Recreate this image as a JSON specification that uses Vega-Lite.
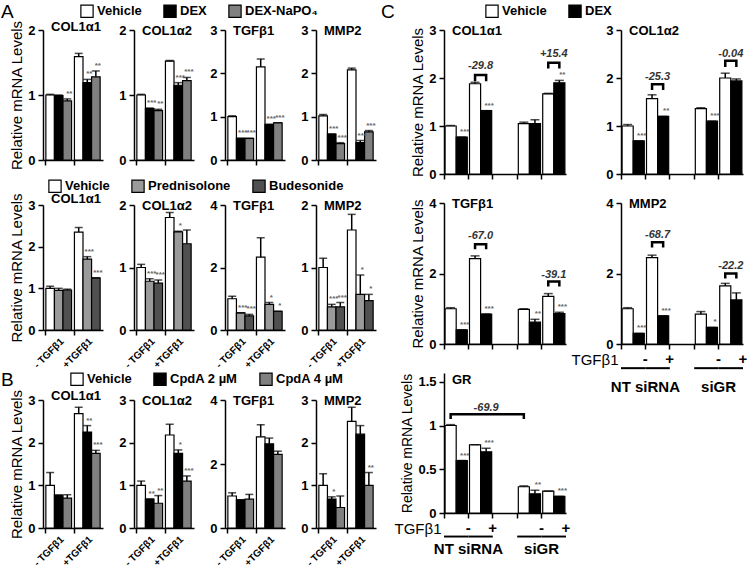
{
"$schema": "https://vega.github.io/schema/vega-lite/v6.json",
"padding": {"left": 1, "top": 4, "right": 0, "bottom": 0},
"config": {
  "font": "Liberation Sans",
  "view": {"stroke": null},
  "axis": {"domainColor": "black", "domainWidth": 1.5, "tickColor": "black", "tickWidth": 1.5, "tickSize": 5, "labelColor": "black", "labelFontSize": 13, "labelFontWeight": "bold", "labelFont": "Liberation Sans", "titleFont": "Liberation Sans", "titleFontSize": 15, "titleFontWeight": "normal", "titleColor": "black", "grid": false, "labelPadding": 3},
  "axisX": {"labels": false, "bandPosition": 0},
  "axisY": {"titlePadding": 3},
  "title": {"anchor": "start", "frame": "group", "fontSize": 13, "fontWeight": "bold", "font": "Liberation Sans", "color": "black", "offset": -14, "dx": 8},
  "legend": {"orient": "none", "direction": "horizontal", "symbolType": "square", "symbolSize": 150, "symbolStrokeColor": "black", "symbolStrokeWidth": 1.5, "labelFontSize": 13, "labelFontWeight": "bold", "labelFont": "Liberation Sans", "labelColor": "black", "titleFont": "Liberation Sans", "titleFontSize": 19, "titleFontWeight": "normal", "titleColor": "black", "titleOrient": "left", "columnPadding": 19, "labelOffset": 3},
  "bar": {"stroke": "black", "strokeWidth": 1.2}
},
"datasets": {
  "A1": [
    {"gene":"COL1α1","tgf":"- TGFβ1","trt":"Vehicle","val":1.0,"hi":1.01,"sig":""},
    {"gene":"COL1α1","tgf":"- TGFβ1","trt":"DEX","val":0.99,"hi":1.0,"sig":""},
    {"gene":"COL1α1","tgf":"- TGFβ1","trt":"DEX-NaPO₄","val":0.91,"hi":0.94,"sig":"**"},
    {"gene":"COL1α1","tgf":"+TGFβ1","trt":"Vehicle","val":1.59,"hi":1.64,"sig":""},
    {"gene":"COL1α1","tgf":"+TGFβ1","trt":"DEX","val":1.19,"hi":1.24,"sig":"**"},
    {"gene":"COL1α1","tgf":"+TGFβ1","trt":"DEX-NaPO₄","val":1.28,"hi":1.37,"sig":"**"},
    {"gene":"COL1α2","tgf":"- TGFβ1","trt":"Vehicle","val":1.0,"hi":1.01,"sig":""},
    {"gene":"COL1α2","tgf":"- TGFβ1","trt":"DEX","val":0.79,"hi":0.8,"sig":"***"},
    {"gene":"COL1α2","tgf":"- TGFβ1","trt":"DEX-NaPO₄","val":0.76,"hi":0.78,"sig":"**"},
    {"gene":"COL1α2","tgf":"+TGFβ1","trt":"Vehicle","val":1.52,"hi":1.53,"sig":""},
    {"gene":"COL1α2","tgf":"+TGFβ1","trt":"DEX","val":1.15,"hi":1.19,"sig":"***"},
    {"gene":"COL1α2","tgf":"+TGFβ1","trt":"DEX-NaPO₄","val":1.22,"hi":1.27,"sig":"***"},
    {"gene":"TGFβ1","tgf":"- TGFβ1","trt":"Vehicle","val":1.0,"hi":1.02,"sig":""},
    {"gene":"TGFβ1","tgf":"- TGFβ1","trt":"DEX","val":0.5,"hi":0.5,"sig":"***"},
    {"gene":"TGFβ1","tgf":"- TGFβ1","trt":"DEX-NaPO₄","val":0.5,"hi":0.5,"sig":"***"},
    {"gene":"TGFβ1","tgf":"+TGFβ1","trt":"Vehicle","val":2.15,"hi":2.33,"sig":""},
    {"gene":"TGFβ1","tgf":"+TGFβ1","trt":"DEX","val":0.82,"hi":0.82,"sig":"***"},
    {"gene":"TGFβ1","tgf":"+TGFβ1","trt":"DEX-NaPO₄","val":0.86,"hi":0.86,"sig":"***"},
    {"gene":"MMP2","tgf":"- TGFβ1","trt":"Vehicle","val":1.02,"hi":1.05,"sig":""},
    {"gene":"MMP2","tgf":"- TGFβ1","trt":"DEX","val":0.6,"hi":0.6,"sig":"***"},
    {"gene":"MMP2","tgf":"- TGFβ1","trt":"DEX-NaPO₄","val":0.38,"hi":0.4,"sig":"***"},
    {"gene":"MMP2","tgf":"+TGFβ1","trt":"Vehicle","val":2.08,"hi":2.12,"sig":""},
    {"gene":"MMP2","tgf":"+TGFβ1","trt":"DEX","val":0.4,"hi":0.45,"sig":"***"},
    {"gene":"MMP2","tgf":"+TGFβ1","trt":"DEX-NaPO₄","val":0.65,"hi":0.68,"sig":"***"}
  ],
  "A2": [
    {"gene":"COL1α1","tgf":"- TGFβ1","trt":"Vehicle","val":1.0,"hi":1.05,"sig":""},
    {"gene":"COL1α1","tgf":"- TGFβ1","trt":"Prednisolone","val":0.95,"hi":1.0,"sig":""},
    {"gene":"COL1α1","tgf":"- TGFβ1","trt":"Budesonide","val":0.96,"hi":0.98,"sig":""},
    {"gene":"COL1α1","tgf":"+TGFβ1","trt":"Vehicle","val":2.35,"hi":2.46,"sig":""},
    {"gene":"COL1α1","tgf":"+TGFβ1","trt":"Prednisolone","val":1.7,"hi":1.76,"sig":"***"},
    {"gene":"COL1α1","tgf":"+TGFβ1","trt":"Budesonide","val":1.25,"hi":1.25,"sig":"***"},
    {"gene":"COL1α2","tgf":"- TGFβ1","trt":"Vehicle","val":1.0,"hi":1.05,"sig":""},
    {"gene":"COL1α2","tgf":"- TGFβ1","trt":"Prednisolone","val":0.78,"hi":0.82,"sig":"***"},
    {"gene":"COL1α2","tgf":"- TGFβ1","trt":"Budesonide","val":0.75,"hi":0.8,"sig":"***"},
    {"gene":"COL1α2","tgf":"+TGFβ1","trt":"Vehicle","val":1.8,"hi":1.88,"sig":""},
    {"gene":"COL1α2","tgf":"+TGFβ1","trt":"Prednisolone","val":1.57,"hi":1.58,"sig":"*"},
    {"gene":"COL1α2","tgf":"+TGFβ1","trt":"Budesonide","val":1.38,"hi":1.6,"sig":""},
    {"gene":"TGFβ1","tgf":"- TGFβ1","trt":"Vehicle","val":1.0,"hi":1.08,"sig":""},
    {"gene":"TGFβ1","tgf":"- TGFβ1","trt":"Prednisolone","val":0.55,"hi":0.55,"sig":"***"},
    {"gene":"TGFβ1","tgf":"- TGFβ1","trt":"Budesonide","val":0.45,"hi":0.5,"sig":"***"},
    {"gene":"TGFβ1","tgf":"+TGFβ1","trt":"Vehicle","val":2.33,"hi":2.95,"sig":""},
    {"gene":"TGFβ1","tgf":"+TGFβ1","trt":"Prednisolone","val":0.82,"hi":0.88,"sig":"*"},
    {"gene":"TGFβ1","tgf":"+TGFβ1","trt":"Budesonide","val":0.6,"hi":0.6,"sig":"*"},
    {"gene":"MMP2","tgf":"- TGFβ1","trt":"Vehicle","val":1.0,"hi":1.15,"sig":""},
    {"gene":"MMP2","tgf":"- TGFβ1","trt":"Prednisolone","val":0.37,"hi":0.41,"sig":"***"},
    {"gene":"MMP2","tgf":"- TGFβ1","trt":"Budesonide","val":0.37,"hi":0.44,"sig":"***"},
    {"gene":"MMP2","tgf":"+TGFβ1","trt":"Vehicle","val":1.6,"hi":1.85,"sig":""},
    {"gene":"MMP2","tgf":"+TGFβ1","trt":"Prednisolone","val":0.57,"hi":0.88,"sig":"*"},
    {"gene":"MMP2","tgf":"+TGFβ1","trt":"Budesonide","val":0.47,"hi":0.57,"sig":"*"}
  ],
  "B": [
    {"gene":"COL1α1","tgf":"- TGFβ1","trt":"Vehicle","val":1.0,"hi":1.3,"sig":""},
    {"gene":"COL1α1","tgf":"- TGFβ1","trt":"CpdA 2 µM","val":0.77,"hi":0.77,"sig":""},
    {"gene":"COL1α1","tgf":"- TGFβ1","trt":"CpdA 4 µM","val":0.7,"hi":0.78,"sig":""},
    {"gene":"COL1α1","tgf":"+TGFβ1","trt":"Vehicle","val":2.68,"hi":2.83,"sig":""},
    {"gene":"COL1α1","tgf":"+TGFβ1","trt":"CpdA 2 µM","val":2.25,"hi":2.4,"sig":"**"},
    {"gene":"COL1α1","tgf":"+TGFβ1","trt":"CpdA 4 µM","val":1.75,"hi":1.82,"sig":"***"},
    {"gene":"COL1α2","tgf":"- TGFβ1","trt":"Vehicle","val":1.0,"hi":1.1,"sig":""},
    {"gene":"COL1α2","tgf":"- TGFβ1","trt":"CpdA 2 µM","val":0.68,"hi":0.68,"sig":"**"},
    {"gene":"COL1α2","tgf":"- TGFβ1","trt":"CpdA 4 µM","val":0.58,"hi":0.76,"sig":"**"},
    {"gene":"COL1α2","tgf":"+TGFβ1","trt":"Vehicle","val":2.18,"hi":2.43,"sig":""},
    {"gene":"COL1α2","tgf":"+TGFβ1","trt":"CpdA 2 µM","val":1.75,"hi":1.83,"sig":"*"},
    {"gene":"COL1α2","tgf":"+TGFβ1","trt":"CpdA 4 µM","val":1.1,"hi":1.22,"sig":"***"},
    {"gene":"TGFβ1","tgf":"- TGFβ1","trt":"Vehicle","val":1.0,"hi":1.1,"sig":""},
    {"gene":"TGFβ1","tgf":"- TGFβ1","trt":"CpdA 2 µM","val":0.88,"hi":0.88,"sig":""},
    {"gene":"TGFβ1","tgf":"- TGFβ1","trt":"CpdA 4 µM","val":0.9,"hi":1.05,"sig":""},
    {"gene":"TGFβ1","tgf":"+TGFβ1","trt":"Vehicle","val":2.85,"hi":3.23,"sig":""},
    {"gene":"TGFβ1","tgf":"+TGFβ1","trt":"CpdA 2 µM","val":2.63,"hi":2.81,"sig":""},
    {"gene":"TGFβ1","tgf":"+TGFβ1","trt":"CpdA 4 µM","val":2.3,"hi":2.4,"sig":""},
    {"gene":"MMP2","tgf":"- TGFβ1","trt":"Vehicle","val":1.0,"hi":1.27,"sig":""},
    {"gene":"MMP2","tgf":"- TGFβ1","trt":"CpdA 2 µM","val":0.68,"hi":0.73,"sig":"*"},
    {"gene":"MMP2","tgf":"- TGFβ1","trt":"CpdA 4 µM","val":0.48,"hi":0.75,"sig":""},
    {"gene":"MMP2","tgf":"+TGFβ1","trt":"Vehicle","val":2.5,"hi":2.83,"sig":""},
    {"gene":"MMP2","tgf":"+TGFβ1","trt":"CpdA 2 µM","val":2.2,"hi":2.4,"sig":""},
    {"gene":"MMP2","tgf":"+TGFβ1","trt":"CpdA 4 µM","val":1.0,"hi":1.3,"sig":"**"}
  ],
  "C": [
    {"gene":"COL1α1","grp":"NT-","trt":"Vehicle","val":1.0,"hi":1.01,"sig":""},
    {"gene":"COL1α1","grp":"NT-","trt":"DEX","val":0.77,"hi":0.77,"sig":"***"},
    {"gene":"COL1α1","grp":"NT+","trt":"Vehicle","val":1.88,"hi":1.91,"sig":""},
    {"gene":"COL1α1","grp":"NT+","trt":"DEX","val":1.32,"hi":1.32,"sig":"***"},
    {"gene":"COL1α1","grp":"siGR-","trt":"Vehicle","val":1.05,"hi":1.08,"sig":""},
    {"gene":"COL1α1","grp":"siGR-","trt":"DEX","val":1.05,"hi":1.13,"sig":""},
    {"gene":"COL1α1","grp":"siGR+","trt":"Vehicle","val":1.67,"hi":1.68,"sig":""},
    {"gene":"COL1α1","grp":"siGR+","trt":"DEX","val":1.9,"hi":1.95,"sig":"**"},
    {"gene":"COL1α2","grp":"NT-","trt":"Vehicle","val":1.0,"hi":1.03,"sig":""},
    {"gene":"COL1α2","grp":"NT-","trt":"DEX","val":0.69,"hi":0.69,"sig":"***"},
    {"gene":"COL1α2","grp":"NT+","trt":"Vehicle","val":1.57,"hi":1.65,"sig":""},
    {"gene":"COL1α2","grp":"NT+","trt":"DEX","val":1.2,"hi":1.2,"sig":"**"},
    {"gene":"COL1α2","grp":"siGR-","trt":"Vehicle","val":1.36,"hi":1.38,"sig":""},
    {"gene":"COL1α2","grp":"siGR-","trt":"DEX","val":1.1,"hi":1.1,"sig":"***"},
    {"gene":"COL1α2","grp":"siGR+","trt":"Vehicle","val":2.0,"hi":2.1,"sig":""},
    {"gene":"COL1α2","grp":"siGR+","trt":"DEX","val":1.94,"hi":1.98,"sig":""},
    {"gene":"TGFβ1","grp":"NT-","trt":"Vehicle","val":1.0,"hi":1.03,"sig":""},
    {"gene":"TGFβ1","grp":"NT-","trt":"DEX","val":0.4,"hi":0.4,"sig":"***"},
    {"gene":"TGFβ1","grp":"NT+","trt":"Vehicle","val":2.42,"hi":2.5,"sig":""},
    {"gene":"TGFβ1","grp":"NT+","trt":"DEX","val":0.85,"hi":0.85,"sig":"***"},
    {"gene":"TGFβ1","grp":"siGR-","trt":"Vehicle","val":0.98,"hi":1.0,"sig":""},
    {"gene":"TGFβ1","grp":"siGR-","trt":"DEX","val":0.62,"hi":0.7,"sig":"**"},
    {"gene":"TGFβ1","grp":"siGR+","trt":"Vehicle","val":1.35,"hi":1.43,"sig":""},
    {"gene":"TGFβ1","grp":"siGR+","trt":"DEX","val":0.86,"hi":0.9,"sig":"***"},
    {"gene":"MMP2","grp":"NT-","trt":"Vehicle","val":1.0,"hi":1.03,"sig":""},
    {"gene":"MMP2","grp":"NT-","trt":"DEX","val":0.3,"hi":0.3,"sig":"***"},
    {"gene":"MMP2","grp":"NT+","trt":"Vehicle","val":2.45,"hi":2.52,"sig":""},
    {"gene":"MMP2","grp":"NT+","trt":"DEX","val":0.8,"hi":0.8,"sig":"***"},
    {"gene":"MMP2","grp":"siGR-","trt":"Vehicle","val":0.85,"hi":0.92,"sig":""},
    {"gene":"MMP2","grp":"siGR-","trt":"DEX","val":0.47,"hi":0.47,"sig":"*"},
    {"gene":"MMP2","grp":"siGR+","trt":"Vehicle","val":1.65,"hi":1.72,"sig":""},
    {"gene":"MMP2","grp":"siGR+","trt":"DEX","val":1.25,"hi":1.45,"sig":""},
    {"gene":"GR","grp":"NT-","trt":"Vehicle","val":1.0,"hi":1.01,"sig":""},
    {"gene":"GR","grp":"NT-","trt":"DEX","val":0.6,"hi":0.6,"sig":"***"},
    {"gene":"GR","grp":"NT+","trt":"Vehicle","val":0.78,"hi":0.78,"sig":""},
    {"gene":"GR","grp":"NT+","trt":"DEX","val":0.7,"hi":0.74,"sig":"***"},
    {"gene":"GR","grp":"siGR-","trt":"Vehicle","val":0.3,"hi":0.31,"sig":""},
    {"gene":"GR","grp":"siGR-","trt":"DEX","val":0.22,"hi":0.26,"sig":"**"},
    {"gene":"GR","grp":"siGR+","trt":"Vehicle","val":0.25,"hi":0.25,"sig":""},
    {"gene":"GR","grp":"siGR+","trt":"DEX","val":0.19,"hi":0.19,"sig":"***"}
  ],
  "Cbr": [
    {"id":"b1","gene":"COL1α1","grp":"NT+","trt":"Vehicle","y":1.93,"ord":1},
    {"id":"b1","gene":"COL1α1","grp":"NT+","trt":"Vehicle","y":2.06,"ord":2},
    {"id":"b1","gene":"COL1α1","grp":"NT+","trt":"DEX","y":2.06,"ord":3},
    {"id":"b1","gene":"COL1α1","grp":"NT+","trt":"DEX","y":1.93,"ord":4},
    {"id":"b2","gene":"COL1α1","grp":"siGR+","trt":"Vehicle","y":2.2,"ord":1},
    {"id":"b2","gene":"COL1α1","grp":"siGR+","trt":"Vehicle","y":2.32,"ord":2},
    {"id":"b2","gene":"COL1α1","grp":"siGR+","trt":"DEX","y":2.32,"ord":3},
    {"id":"b2","gene":"COL1α1","grp":"siGR+","trt":"DEX","y":2.2,"ord":4},
    {"id":"b3","gene":"COL1α2","grp":"NT+","trt":"Vehicle","y":1.75,"ord":1},
    {"id":"b3","gene":"COL1α2","grp":"NT+","trt":"Vehicle","y":1.87,"ord":2},
    {"id":"b3","gene":"COL1α2","grp":"NT+","trt":"DEX","y":1.87,"ord":3},
    {"id":"b3","gene":"COL1α2","grp":"NT+","trt":"DEX","y":1.75,"ord":4},
    {"id":"b4","gene":"COL1α2","grp":"siGR+","trt":"Vehicle","y":2.23,"ord":1},
    {"id":"b4","gene":"COL1α2","grp":"siGR+","trt":"Vehicle","y":2.36,"ord":2},
    {"id":"b4","gene":"COL1α2","grp":"siGR+","trt":"DEX","y":2.36,"ord":3},
    {"id":"b4","gene":"COL1α2","grp":"siGR+","trt":"DEX","y":2.23,"ord":4},
    {"id":"b5","gene":"TGFβ1","grp":"NT+","trt":"Vehicle","y":2.69,"ord":1},
    {"id":"b5","gene":"TGFβ1","grp":"NT+","trt":"Vehicle","y":2.83,"ord":2},
    {"id":"b5","gene":"TGFβ1","grp":"NT+","trt":"DEX","y":2.83,"ord":3},
    {"id":"b5","gene":"TGFβ1","grp":"NT+","trt":"DEX","y":2.69,"ord":4},
    {"id":"b6","gene":"TGFβ1","grp":"siGR+","trt":"Vehicle","y":1.63,"ord":1},
    {"id":"b6","gene":"TGFβ1","grp":"siGR+","trt":"Vehicle","y":1.77,"ord":2},
    {"id":"b6","gene":"TGFβ1","grp":"siGR+","trt":"DEX","y":1.77,"ord":3},
    {"id":"b6","gene":"TGFβ1","grp":"siGR+","trt":"DEX","y":1.63,"ord":4},
    {"id":"b7","gene":"MMP2","grp":"NT+","trt":"Vehicle","y":2.74,"ord":1},
    {"id":"b7","gene":"MMP2","grp":"NT+","trt":"Vehicle","y":2.89,"ord":2},
    {"id":"b7","gene":"MMP2","grp":"NT+","trt":"DEX","y":2.89,"ord":3},
    {"id":"b7","gene":"MMP2","grp":"NT+","trt":"DEX","y":2.74,"ord":4},
    {"id":"b8","gene":"MMP2","grp":"siGR+","trt":"Vehicle","y":1.86,"ord":1},
    {"id":"b8","gene":"MMP2","grp":"siGR+","trt":"Vehicle","y":2.0,"ord":2},
    {"id":"b8","gene":"MMP2","grp":"siGR+","trt":"DEX","y":2.0,"ord":3},
    {"id":"b8","gene":"MMP2","grp":"siGR+","trt":"DEX","y":1.86,"ord":4},
    {"id":"b9","gene":"GR","grp":"NT-","trt":"Vehicle","y":1.075,"ord":1},
    {"id":"b9","gene":"GR","grp":"NT-","trt":"Vehicle","y":1.13,"ord":2},
    {"id":"b9","gene":"GR","grp":"siGR-","trt":"Vehicle","y":1.13,"ord":3},
    {"id":"b9","gene":"GR","grp":"siGR-","trt":"Vehicle","y":1.075,"ord":4}
  ],
  "Clab": [
    {"gene":"COL1α1","grp":"NT+","y":2.25,"label":"-29.8"},
    {"gene":"COL1α1","grp":"siGR+","y":2.5,"label":"+15.4"},
    {"gene":"COL1α2","grp":"NT+","y":2.02,"label":"-25.3"},
    {"gene":"COL1α2","grp":"siGR+","y":2.51,"label":"-0.04"},
    {"gene":"TGFβ1","grp":"NT+","y":3.05,"label":"-67.0"},
    {"gene":"TGFβ1","grp":"siGR+","y":1.97,"label":"-39.1"},
    {"gene":"MMP2","grp":"NT+","y":3.09,"label":"-68.7"},
    {"gene":"MMP2","grp":"siGR+","y":2.2,"label":"-22.2"},
    {"gene":"GR","grp":"NT+","trt":"DEX","y":1.2,"label":"-69.9"}
  ],
  "Csi": [
    {"gene":"MMP2","grp":"NT-"},{"gene":"MMP2","grp":"NT+"},{"gene":"MMP2","grp":"siGR-"},{"gene":"MMP2","grp":"siGR+"},
    {"gene":"GR","grp":"NT-"},{"gene":"GR","grp":"NT+"},{"gene":"GR","grp":"siGR-"},{"gene":"GR","grp":"siGR+"}
  ],
  "Csilab": [
    {"gene":"MMP2","grp":"NT+","name":"NT siRNA"},{"gene":"MMP2","grp":"siGR+","name":"siGR"},
    {"gene":"GR","grp":"NT+","name":"NT siRNA"},{"gene":"GR","grp":"siGR+","name":"siGR"}
  ]
},
"hconcat": [
 {
  "vconcat": [
   {
    "vconcat": [
     {
      "data": {"name": "A1"},
      "hconcat": [
       {"width": 60, "height": 130, "title": "COL1α1",
        "transform": [{"filter": "datum.gene === 'COL1α1'"}],
        "encoding": {"x": {"field": "tgf", "type": "nominal", "title": null, "scale": {"domain": ["- TGFβ1","+TGFβ1"], "paddingInner": 0.1, "paddingOuter": 0.1}, "axis": {"labels": false}},
                     "xOffset": {"field": "trt", "type": "nominal", "scale": {"domain": ["Vehicle","DEX","DEX-NaPO₄"], "paddingInner": 0, "paddingOuter": 0}}},
        "layer": [
         {"mark": "bar", "encoding": {"y": {"field": "val", "type": "quantitative", "scale": {"domain": [0, 2]}, "axis": {"values": [0,0.5,1,1.5,2], "format": "~g", "title": "Relative mRNA Levels"}},
           "color": {"field": "trt", "type": "nominal", "scale": {"domain": ["Vehicle","DEX","DEX-NaPO₄"], "range": ["#ffffff","#000000","#808080"]}, "legend": {"title": "A", "legendX": -42, "legendY": -26, "titlePadding": 66}}}},
         {"mark": {"type": "rule", "color": "black", "strokeWidth": 1.5}, "encoding": {"y": {"field": "val", "type": "quantitative"}, "y2": {"field": "hi"}}},
         {"mark": {"type": "tick", "color": "black", "thickness": 1.5, "size": 8}, "encoding": {"y": {"field": "hi", "type": "quantitative"}}},
         {"mark": {"type": "text", "fontSize": 8, "fontWeight": "bold", "color": "#666666", "baseline": "bottom", "dx": 2, "dy": -1}, "encoding": {"y": {"field": "hi", "type": "quantitative"}, "text": {"field": "sig"}}}
        ]},
       {"width": 60, "height": 130, "title": "COL1α2",
        "transform": [{"filter": "datum.gene === 'COL1α2'"}],
        "encoding": {"x": {"field": "tgf", "type": "nominal", "title": null, "scale": {"domain": ["- TGFβ1","+TGFβ1"], "paddingInner": 0.1, "paddingOuter": 0.1}, "axis": {"labels": false}},
                     "xOffset": {"field": "trt", "type": "nominal", "scale": {"domain": ["Vehicle","DEX","DEX-NaPO₄"], "paddingInner": 0, "paddingOuter": 0}}},
        "layer": [
         {"mark": "bar", "encoding": {"y": {"field": "val", "type": "quantitative", "scale": {"domain": [0, 2]}, "axis": {"values": [0,0.5,1,1.5,2], "format": "~g", "title": null}},
           "color": {"field": "trt", "type": "nominal", "scale": {"domain": ["Vehicle","DEX","DEX-NaPO₄"], "range": ["#ffffff","#000000","#808080"]}, "legend": {"title": "A", "legendX": -42, "legendY": -26, "titlePadding": 66}}}},
         {"mark": {"type": "rule", "color": "black", "strokeWidth": 1.5}, "encoding": {"y": {"field": "val", "type": "quantitative"}, "y2": {"field": "hi"}}},
         {"mark": {"type": "tick", "color": "black", "thickness": 1.5, "size": 8}, "encoding": {"y": {"field": "hi", "type": "quantitative"}}},
         {"mark": {"type": "text", "fontSize": 8, "fontWeight": "bold", "color": "#666666", "baseline": "bottom", "dx": 2, "dy": -1}, "encoding": {"y": {"field": "hi", "type": "quantitative"}, "text": {"field": "sig"}}}
        ]},
       {"width": 60, "height": 130, "title": "TGFβ1",
        "transform": [{"filter": "datum.gene === 'TGFβ1'"}],
        "encoding": {"x": {"field": "tgf", "type": "nominal", "title": null, "scale": {"domain": ["- TGFβ1","+TGFβ1"], "paddingInner": 0.1, "paddingOuter": 0.1}, "axis": {"labels": false}},
                     "xOffset": {"field": "trt", "type": "nominal", "scale": {"domain": ["Vehicle","DEX","DEX-NaPO₄"], "paddingInner": 0, "paddingOuter": 0}}},
        "layer": [
         {"mark": "bar", "encoding": {"y": {"field": "val", "type": "quantitative", "scale": {"domain": [0, 3]}, "axis": {"values": [0,1,2,3], "format": "~g", "title": null}},
           "color": {"field": "trt", "type": "nominal", "scale": {"domain": ["Vehicle","DEX","DEX-NaPO₄"], "range": ["#ffffff","#000000","#808080"]}, "legend": {"title": "A", "legendX": -42, "legendY": -26, "titlePadding": 66}}}},
         {"mark": {"type": "rule", "color": "black", "strokeWidth": 1.5}, "encoding": {"y": {"field": "val", "type": "quantitative"}, "y2": {"field": "hi"}}},
         {"mark": {"type": "tick", "color": "black", "thickness": 1.5, "size": 8}, "encoding": {"y": {"field": "hi", "type": "quantitative"}}},
         {"mark": {"type": "text", "fontSize": 8, "fontWeight": "bold", "color": "#666666", "baseline": "bottom", "dx": 2, "dy": -1}, "encoding": {"y": {"field": "hi", "type": "quantitative"}, "text": {"field": "sig"}}}
        ]},
       {"width": 60, "height": 130, "title": "MMP2",
        "transform": [{"filter": "datum.gene === 'MMP2'"}],
        "encoding": {"x": {"field": "tgf", "type": "nominal", "title": null, "scale": {"domain": ["- TGFβ1","+TGFβ1"], "paddingInner": 0.1, "paddingOuter": 0.1}, "axis": {"labels": false}},
                     "xOffset": {"field": "trt", "type": "nominal", "scale": {"domain": ["Vehicle","DEX","DEX-NaPO₄"], "paddingInner": 0, "paddingOuter": 0}}},
        "layer": [
         {"mark": "bar", "encoding": {"y": {"field": "val", "type": "quantitative", "scale": {"domain": [0, 3]}, "axis": {"values": [0,1,2,3], "format": "~g", "title": null}},
           "color": {"field": "trt", "type": "nominal", "scale": {"domain": ["Vehicle","DEX","DEX-NaPO₄"], "range": ["#ffffff","#000000","#808080"]}, "legend": {"title": "A", "legendX": -42, "legendY": -26, "titlePadding": 66}}}},
         {"mark": {"type": "rule", "color": "black", "strokeWidth": 1.5}, "encoding": {"y": {"field": "val", "type": "quantitative"}, "y2": {"field": "hi"}}},
         {"mark": {"type": "tick", "color": "black", "thickness": 1.5, "size": 8}, "encoding": {"y": {"field": "hi", "type": "quantitative"}}},
         {"mark": {"type": "text", "fontSize": 8, "fontWeight": "bold", "color": "#666666", "baseline": "bottom", "dx": 2, "dy": -1}, "encoding": {"y": {"field": "hi", "type": "quantitative"}, "text": {"field": "sig"}}}
        ]}
      ],
      "spacing": 31, "bounds": "flush", "resolve": {"scale": {"xOffset": "independent"}}
     },
     {
      "data": {"name": "A2"},
      "hconcat": [
       {"width": 60, "height": 125, "title": "COL1α1",
        "transform": [{"filter": "datum.gene === 'COL1α1'"}],
        "encoding": {"x": {"field": "tgf", "type": "nominal", "title": null, "scale": {"domain": ["- TGFβ1","+TGFβ1"], "paddingInner": 0.1, "paddingOuter": 0.1}, "axis": {"labels": true, "labelAngle": -45, "labelFontSize": 10, "labelPadding": 1}},
                     "xOffset": {"field": "trt", "type": "nominal", "scale": {"domain": ["Vehicle","Prednisolone","Budesonide"], "paddingInner": 0, "paddingOuter": 0}}},
        "layer": [
         {"mark": "bar", "encoding": {"y": {"field": "val", "type": "quantitative", "scale": {"domain": [0, 3]}, "axis": {"values": [0,1,2,3], "format": "~g", "title": "Relative mRNA Levels"}},
           "color": {"field": "trt", "type": "nominal", "title": null, "scale": {"domain": ["Vehicle","Prednisolone","Budesonide"], "range": ["#ffffff","#9a9a9a","#505050"]}, "legend": {"legendX": 5, "legendY": -26}}}},
         {"mark": {"type": "rule", "color": "black", "strokeWidth": 1.5}, "encoding": {"y": {"field": "val", "type": "quantitative"}, "y2": {"field": "hi"}}},
         {"mark": {"type": "tick", "color": "black", "thickness": 1.5, "size": 8}, "encoding": {"y": {"field": "hi", "type": "quantitative"}}},
         {"mark": {"type": "text", "fontSize": 8, "fontWeight": "bold", "color": "#666666", "baseline": "bottom", "dx": 2, "dy": -1}, "encoding": {"y": {"field": "hi", "type": "quantitative"}, "text": {"field": "sig"}}}
        ]},
       {"width": 60, "height": 125, "title": "COL1α2",
        "transform": [{"filter": "datum.gene === 'COL1α2'"}],
        "encoding": {"x": {"field": "tgf", "type": "nominal", "title": null, "scale": {"domain": ["- TGFβ1","+TGFβ1"], "paddingInner": 0.1, "paddingOuter": 0.1}, "axis": {"labels": true, "labelAngle": -45, "labelFontSize": 10, "labelPadding": 1}},
                     "xOffset": {"field": "trt", "type": "nominal", "scale": {"domain": ["Vehicle","Prednisolone","Budesonide"], "paddingInner": 0, "paddingOuter": 0}}},
        "layer": [
         {"mark": "bar", "encoding": {"y": {"field": "val", "type": "quantitative", "scale": {"domain": [0, 2]}, "axis": {"values": [0,0.5,1,1.5,2], "format": "~g", "title": null}},
           "color": {"field": "trt", "type": "nominal", "title": null, "scale": {"domain": ["Vehicle","Prednisolone","Budesonide"], "range": ["#ffffff","#9a9a9a","#505050"]}, "legend": {"legendX": 5, "legendY": -26}}}},
         {"mark": {"type": "rule", "color": "black", "strokeWidth": 1.5}, "encoding": {"y": {"field": "val", "type": "quantitative"}, "y2": {"field": "hi"}}},
         {"mark": {"type": "tick", "color": "black", "thickness": 1.5, "size": 8}, "encoding": {"y": {"field": "hi", "type": "quantitative"}}},
         {"mark": {"type": "text", "fontSize": 8, "fontWeight": "bold", "color": "#666666", "baseline": "bottom", "dx": 2, "dy": -1}, "encoding": {"y": {"field": "hi", "type": "quantitative"}, "text": {"field": "sig"}}}
        ]},
       {"width": 60, "height": 125, "title": "TGFβ1",
        "transform": [{"filter": "datum.gene === 'TGFβ1'"}],
        "encoding": {"x": {"field": "tgf", "type": "nominal", "title": null, "scale": {"domain": ["- TGFβ1","+TGFβ1"], "paddingInner": 0.1, "paddingOuter": 0.1}, "axis": {"labels": true, "labelAngle": -45, "labelFontSize": 10, "labelPadding": 1}},
                     "xOffset": {"field": "trt", "type": "nominal", "scale": {"domain": ["Vehicle","Prednisolone","Budesonide"], "paddingInner": 0, "paddingOuter": 0}}},
        "layer": [
         {"mark": "bar", "encoding": {"y": {"field": "val", "type": "quantitative", "scale": {"domain": [0, 4]}, "axis": {"values": [0,1,2,3,4], "format": "~g", "title": null}},
           "color": {"field": "trt", "type": "nominal", "title": null, "scale": {"domain": ["Vehicle","Prednisolone","Budesonide"], "range": ["#ffffff","#9a9a9a","#505050"]}, "legend": {"legendX": 5, "legendY": -26}}}},
         {"mark": {"type": "rule", "color": "black", "strokeWidth": 1.5}, "encoding": {"y": {"field": "val", "type": "quantitative"}, "y2": {"field": "hi"}}},
         {"mark": {"type": "tick", "color": "black", "thickness": 1.5, "size": 8}, "encoding": {"y": {"field": "hi", "type": "quantitative"}}},
         {"mark": {"type": "text", "fontSize": 8, "fontWeight": "bold", "color": "#666666", "baseline": "bottom", "dx": 2, "dy": -1}, "encoding": {"y": {"field": "hi", "type": "quantitative"}, "text": {"field": "sig"}}}
        ]},
       {"width": 60, "height": 125, "title": "MMP2",
        "transform": [{"filter": "datum.gene === 'MMP2'"}],
        "encoding": {"x": {"field": "tgf", "type": "nominal", "title": null, "scale": {"domain": ["- TGFβ1","+TGFβ1"], "paddingInner": 0.1, "paddingOuter": 0.1}, "axis": {"labels": true, "labelAngle": -45, "labelFontSize": 10, "labelPadding": 1}},
                     "xOffset": {"field": "trt", "type": "nominal", "scale": {"domain": ["Vehicle","Prednisolone","Budesonide"], "paddingInner": 0, "paddingOuter": 0}}},
        "layer": [
         {"mark": "bar", "encoding": {"y": {"field": "val", "type": "quantitative", "scale": {"domain": [0, 2]}, "axis": {"values": [0,0.5,1,1.5,2], "format": "~g", "title": null}},
           "color": {"field": "trt", "type": "nominal", "title": null, "scale": {"domain": ["Vehicle","Prednisolone","Budesonide"], "range": ["#ffffff","#9a9a9a","#505050"]}, "legend": {"legendX": 5, "legendY": -26}}}},
         {"mark": {"type": "rule", "color": "black", "strokeWidth": 1.5}, "encoding": {"y": {"field": "val", "type": "quantitative"}, "y2": {"field": "hi"}}},
         {"mark": {"type": "tick", "color": "black", "thickness": 1.5, "size": 8}, "encoding": {"y": {"field": "hi", "type": "quantitative"}}},
         {"mark": {"type": "text", "fontSize": 8, "fontWeight": "bold", "color": "#666666", "baseline": "bottom", "dx": 2, "dy": -1}, "encoding": {"y": {"field": "hi", "type": "quantitative"}, "text": {"field": "sig"}}}
        ]}
      ],
      "spacing": 31, "bounds": "flush", "resolve": {"scale": {"xOffset": "independent"}}
     }
    ],
    "spacing": 8, "resolve": {"scale": {"color": "independent", "xOffset": "independent"}}
   },
   {
    "data": {"name": "B"},
    "hconcat": [
     {"width": 60, "height": 128, "title": "COL1α1",
      "transform": [{"filter": "datum.gene === 'COL1α1'"}],
      "encoding": {"x": {"field": "tgf", "type": "nominal", "title": null, "scale": {"domain": ["- TGFβ1","+TGFβ1"], "paddingInner": 0.1, "paddingOuter": 0.1}, "axis": {"labels": true, "labelAngle": -45, "labelFontSize": 10, "labelPadding": 1}},
                   "xOffset": {"field": "trt", "type": "nominal", "scale": {"domain": ["Vehicle","CpdA 2 µM","CpdA 4 µM"], "paddingInner": 0, "paddingOuter": 0}}},
      "layer": [
       {"mark": "bar", "encoding": {"y": {"field": "val", "type": "quantitative", "scale": {"domain": [0, 3]}, "axis": {"values": [0,1,2,3], "format": "~g", "title": "Relative mRNA Levels"}},
         "color": {"field": "trt", "type": "nominal", "scale": {"domain": ["Vehicle","CpdA 2 µM","CpdA 4 µM"], "range": ["#ffffff","#000000","#808080"]}, "legend": {"title": "B", "legendX": -42, "legendY": -28, "titlePadding": 56}}}},
       {"mark": {"type": "rule", "color": "black", "strokeWidth": 1.5}, "encoding": {"y": {"field": "val", "type": "quantitative"}, "y2": {"field": "hi"}}},
       {"mark": {"type": "tick", "color": "black", "thickness": 1.5, "size": 8}, "encoding": {"y": {"field": "hi", "type": "quantitative"}}},
       {"mark": {"type": "text", "fontSize": 8, "fontWeight": "bold", "color": "#666666", "baseline": "bottom", "dx": 2, "dy": -1}, "encoding": {"y": {"field": "hi", "type": "quantitative"}, "text": {"field": "sig"}}}
      ]},
     {"width": 60, "height": 128, "title": "COL1α2",
      "transform": [{"filter": "datum.gene === 'COL1α2'"}],
      "encoding": {"x": {"field": "tgf", "type": "nominal", "title": null, "scale": {"domain": ["- TGFβ1","+TGFβ1"], "paddingInner": 0.1, "paddingOuter": 0.1}, "axis": {"labels": true, "labelAngle": -45, "labelFontSize": 10, "labelPadding": 1}},
                   "xOffset": {"field": "trt", "type": "nominal", "scale": {"domain": ["Vehicle","CpdA 2 µM","CpdA 4 µM"], "paddingInner": 0, "paddingOuter": 0}}},
      "layer": [
       {"mark": "bar", "encoding": {"y": {"field": "val", "type": "quantitative", "scale": {"domain": [0, 3]}, "axis": {"values": [0,1,2,3], "format": "~g", "title": null}},
         "color": {"field": "trt", "type": "nominal", "scale": {"domain": ["Vehicle","CpdA 2 µM","CpdA 4 µM"], "range": ["#ffffff","#000000","#808080"]}, "legend": {"title": "B", "legendX": -42, "legendY": -28, "titlePadding": 56}}}},
       {"mark": {"type": "rule", "color": "black", "strokeWidth": 1.5}, "encoding": {"y": {"field": "val", "type": "quantitative"}, "y2": {"field": "hi"}}},
       {"mark": {"type": "tick", "color": "black", "thickness": 1.5, "size": 8}, "encoding": {"y": {"field": "hi", "type": "quantitative"}}},
       {"mark": {"type": "text", "fontSize": 8, "fontWeight": "bold", "color": "#666666", "baseline": "bottom", "dx": 2, "dy": -1}, "encoding": {"y": {"field": "hi", "type": "quantitative"}, "text": {"field": "sig"}}}
      ]},
     {"width": 60, "height": 128, "title": "TGFβ1",
      "transform": [{"filter": "datum.gene === 'TGFβ1'"}],
      "encoding": {"x": {"field": "tgf", "type": "nominal", "title": null, "scale": {"domain": ["- TGFβ1","+TGFβ1"], "paddingInner": 0.1, "paddingOuter": 0.1}, "axis": {"labels": true, "labelAngle": -45, "labelFontSize": 10, "labelPadding": 1}},
                   "xOffset": {"field": "trt", "type": "nominal", "scale": {"domain": ["Vehicle","CpdA 2 µM","CpdA 4 µM"], "paddingInner": 0, "paddingOuter": 0}}},
      "layer": [
       {"mark": "bar", "encoding": {"y": {"field": "val", "type": "quantitative", "scale": {"domain": [0, 4]}, "axis": {"values": [0,1,2,3,4], "format": "~g", "title": null}},
         "color": {"field": "trt", "type": "nominal", "scale": {"domain": ["Vehicle","CpdA 2 µM","CpdA 4 µM"], "range": ["#ffffff","#000000","#808080"]}, "legend": {"title": "B", "legendX": -42, "legendY": -28, "titlePadding": 56}}}},
       {"mark": {"type": "rule", "color": "black", "strokeWidth": 1.5}, "encoding": {"y": {"field": "val", "type": "quantitative"}, "y2": {"field": "hi"}}},
       {"mark": {"type": "tick", "color": "black", "thickness": 1.5, "size": 8}, "encoding": {"y": {"field": "hi", "type": "quantitative"}}},
       {"mark": {"type": "text", "fontSize": 8, "fontWeight": "bold", "color": "#666666", "baseline": "bottom", "dx": 2, "dy": -1}, "encoding": {"y": {"field": "hi", "type": "quantitative"}, "text": {"field": "sig"}}}
      ]},
     {"width": 60, "height": 128, "title": "MMP2",
      "transform": [{"filter": "datum.gene === 'MMP2'"}],
      "encoding": {"x": {"field": "tgf", "type": "nominal", "title": null, "scale": {"domain": ["- TGFβ1","+TGFβ1"], "paddingInner": 0.1, "paddingOuter": 0.1}, "axis": {"labels": true, "labelAngle": -45, "labelFontSize": 10, "labelPadding": 1}},
                   "xOffset": {"field": "trt", "type": "nominal", "scale": {"domain": ["Vehicle","CpdA 2 µM","CpdA 4 µM"], "paddingInner": 0, "paddingOuter": 0}}},
      "layer": [
       {"mark": "bar", "encoding": {"y": {"field": "val", "type": "quantitative", "scale": {"domain": [0, 3]}, "axis": {"values": [0,1,2,3], "format": "~g", "title": null}},
         "color": {"field": "trt", "type": "nominal", "scale": {"domain": ["Vehicle","CpdA 2 µM","CpdA 4 µM"], "range": ["#ffffff","#000000","#808080"]}, "legend": {"title": "B", "legendX": -42, "legendY": -28, "titlePadding": 56}}}},
       {"mark": {"type": "rule", "color": "black", "strokeWidth": 1.5}, "encoding": {"y": {"field": "val", "type": "quantitative"}, "y2": {"field": "hi"}}},
       {"mark": {"type": "tick", "color": "black", "thickness": 1.5, "size": 8}, "encoding": {"y": {"field": "hi", "type": "quantitative"}}},
       {"mark": {"type": "text", "fontSize": 8, "fontWeight": "bold", "color": "#666666", "baseline": "bottom", "dx": 2, "dy": -1}, "encoding": {"y": {"field": "hi", "type": "quantitative"}, "text": {"field": "sig"}}}
      ]}
    ],
    "spacing": 31, "bounds": "flush", "resolve": {"scale": {"xOffset": "independent"}}
   }
  ],
  "spacing": 2, "resolve": {"scale": {"color": "independent", "xOffset": "independent"}}
 },
 {
  "hconcat": [
   {
    "vconcat": [
     {"width": 122, "height": 144, "title": "COL1α1",
      "data": {"name": "C"}, "transform": [{"filter": "datum.gene === 'COL1α1'"}],
      "encoding": {"x": {"field": "grp", "type": "nominal", "title": null, "scale": {"domain": ["NT-","NT+","gap","siGR-","siGR+"], "paddingInner": 0, "paddingOuter": 0}, "axis": {"labels": false}}},
      "layer": [
       {"mark": "bar", "encoding": {"xOffset": {"field": "trt", "type": "nominal", "scale": {"domain": ["Vehicle","DEX"], "paddingInner": 0, "paddingOuter": 0.1}},
         "y": {"field": "val", "type": "quantitative", "scale": {"domain": [0, 3]}, "axis": {"values": [0,1,2,3], "format": "~g", "title": "Relative mRNA Levels"}},
         "color": {"field": "trt", "type": "nominal", "scale": {"domain": ["Vehicle","DEX"], "range": ["#ffffff","#000000"]}, "legend": {"title": "C", "legendX": -63, "legendY": -26, "titlePadding": 90}}}},
       {"mark": {"type": "rule", "color": "black", "strokeWidth": 1.5}, "encoding": {"xOffset": {"field": "trt", "type": "nominal"}, "y": {"field": "val", "type": "quantitative"}, "y2": {"field": "hi"}}},
       {"mark": {"type": "tick", "color": "black", "thickness": 1.5, "size": 9}, "encoding": {"xOffset": {"field": "trt", "type": "nominal"}, "y": {"field": "hi", "type": "quantitative"}}},
       {"mark": {"type": "text", "fontSize": 8, "fontWeight": "bold", "color": "#666666", "baseline": "bottom", "dx": 3, "dy": -1}, "encoding": {"xOffset": {"field": "trt", "type": "nominal"}, "y": {"field": "hi", "type": "quantitative"}, "text": {"field": "sig"}}},
       {"data": {"name": "Cbr"}, "transform": [{"filter": "datum.gene === 'COL1α1'"}], "mark": {"type": "line", "color": "black", "strokeWidth": 2.5}, "encoding": {"xOffset": {"field": "trt", "type": "nominal"}, "y": {"field": "y", "type": "quantitative"}, "detail": {"field": "id"}, "order": {"field": "ord", "type": "quantitative"}}},
       {"data": {"name": "Clab"}, "transform": [{"filter": "datum.gene === 'COL1α1'"}], "mark": {"type": "text", "fontSize": 11, "fontStyle": "italic", "fontWeight": "bold", "color": "#333333", "baseline": "middle"}, "encoding": {"y": {"field": "y", "type": "quantitative"}, "text": {"field": "label"}}}
      ]},
     {"width": 122, "height": 141, "title": "TGFβ1",
      "data": {"name": "C"}, "transform": [{"filter": "datum.gene === 'TGFβ1'"}],
      "encoding": {"x": {"field": "grp", "type": "nominal", "title": null, "scale": {"domain": ["NT-","NT+","gap","siGR-","siGR+"], "paddingInner": 0, "paddingOuter": 0}, "axis": {"labels": false}}},
      "layer": [
       {"mark": "bar", "encoding": {"xOffset": {"field": "trt", "type": "nominal", "scale": {"domain": ["Vehicle","DEX"], "paddingInner": 0, "paddingOuter": 0.1}},
         "y": {"field": "val", "type": "quantitative", "scale": {"domain": [0, 4]}, "axis": {"values": [0,1,2,3,4], "format": "~g", "title": "Relative mRNA Levels"}},
         "color": {"field": "trt", "type": "nominal", "scale": {"domain": ["Vehicle","DEX"], "range": ["#ffffff","#000000"]}, "legend": {"title": "C", "legendX": -63, "legendY": -26, "titlePadding": 90}}}},
       {"mark": {"type": "rule", "color": "black", "strokeWidth": 1.5}, "encoding": {"xOffset": {"field": "trt", "type": "nominal"}, "y": {"field": "val", "type": "quantitative"}, "y2": {"field": "hi"}}},
       {"mark": {"type": "tick", "color": "black", "thickness": 1.5, "size": 9}, "encoding": {"xOffset": {"field": "trt", "type": "nominal"}, "y": {"field": "hi", "type": "quantitative"}}},
       {"mark": {"type": "text", "fontSize": 8, "fontWeight": "bold", "color": "#666666", "baseline": "bottom", "dx": 3, "dy": -1}, "encoding": {"xOffset": {"field": "trt", "type": "nominal"}, "y": {"field": "hi", "type": "quantitative"}, "text": {"field": "sig"}}},
       {"data": {"name": "Cbr"}, "transform": [{"filter": "datum.gene === 'TGFβ1'"}], "mark": {"type": "line", "color": "black", "strokeWidth": 2.5}, "encoding": {"xOffset": {"field": "trt", "type": "nominal"}, "y": {"field": "y", "type": "quantitative"}, "detail": {"field": "id"}, "order": {"field": "ord", "type": "quantitative"}}},
       {"data": {"name": "Clab"}, "transform": [{"filter": "datum.gene === 'TGFβ1'"}], "mark": {"type": "text", "fontSize": 11, "fontStyle": "italic", "fontWeight": "bold", "color": "#333333", "baseline": "middle"}, "encoding": {"y": {"field": "y", "type": "quantitative"}, "text": {"field": "label"}}}
      ]},
     {"width": 122, "height": 140, "title": "GR",
      "data": {"name": "C"}, "transform": [{"filter": "datum.gene === 'GR'"}],
      "encoding": {"x": {"field": "grp", "type": "nominal", "title": null, "scale": {"domain": ["NT-","NT+","gap","siGR-","siGR+"], "paddingInner": 0, "paddingOuter": 0},
        "axis": {"labels": true, "labelAngle": 0, "labelAlign": "center", "labelBaseline": "top", "labelOffset": 12, "labelFontSize": 15, "labelPadding": 2,
                 "labelExpr": "datum.value === 'NT-' || datum.value === 'siGR-' ? '-' : (datum.value === 'gap' ? '' : '+')",
                 "title": "TGFβ1", "titleX": -3, "titleY": 15, "titleAlign": "right", "titleBaseline": "middle", "titleFontWeight": "normal", "titleFontSize": 15}}},
      "layer": [
       {"mark": "bar", "encoding": {"xOffset": {"field": "trt", "type": "nominal", "scale": {"domain": ["Vehicle","DEX"], "paddingInner": 0, "paddingOuter": 0.1}},
         "y": {"field": "val", "type": "quantitative", "scale": {"domain": [0, 1.5]}, "axis": {"values": [0,0.5,1,1.5], "format": "~g", "title": "Relative mRNA Levels", "titleFontSize": 14}},
         "color": {"field": "trt", "type": "nominal", "scale": {"domain": ["Vehicle","DEX"], "range": ["#ffffff","#000000"]}, "legend": {"title": "C", "legendX": -63, "legendY": -26, "titlePadding": 90}}}},
       {"mark": {"type": "rule", "color": "black", "strokeWidth": 1.5}, "encoding": {"xOffset": {"field": "trt", "type": "nominal"}, "y": {"field": "val", "type": "quantitative"}, "y2": {"field": "hi"}}},
       {"mark": {"type": "tick", "color": "black", "thickness": 1.5, "size": 9}, "encoding": {"xOffset": {"field": "trt", "type": "nominal"}, "y": {"field": "hi", "type": "quantitative"}}},
       {"mark": {"type": "text", "fontSize": 8, "fontWeight": "bold", "color": "#666666", "baseline": "bottom", "dx": 3, "dy": -1}, "encoding": {"xOffset": {"field": "trt", "type": "nominal"}, "y": {"field": "hi", "type": "quantitative"}, "text": {"field": "sig"}}},
       {"data": {"name": "Cbr"}, "transform": [{"filter": "datum.gene === 'GR'"}], "mark": {"type": "line", "color": "black", "strokeWidth": 2.5}, "encoding": {"xOffset": {"field": "trt", "type": "nominal"}, "y": {"field": "y", "type": "quantitative"}, "detail": {"field": "id"}, "order": {"field": "ord", "type": "quantitative"}}},
       {"data": {"name": "Clab"}, "transform": [{"filter": "datum.gene === 'GR'"}], "mark": {"type": "text", "fontSize": 11, "fontStyle": "italic", "fontWeight": "bold", "color": "#333333", "baseline": "middle"}, "encoding": {"xOffset": {"field": "trt", "type": "nominal"}, "y": {"field": "y", "type": "quantitative"}, "text": {"field": "label"}}},
       {"data": {"name": "Csi"}, "transform": [{"filter": "datum.gene === 'GR'"}], "mark": {"type": "bar", "color": "black", "strokeWidth": 0}, "encoding": {"y": {"datum": -0.258}, "y2": {"datum": -0.28}}},
       {"data": {"name": "Csilab"}, "transform": [{"filter": "datum.gene === 'GR'"}], "mark": {"type": "text", "fontSize": 15, "fontWeight": "bold", "color": "black", "baseline": "middle"}, "encoding": {"x": {"field": "grp", "type": "nominal", "bandPosition": 0}, "y": {"datum": -0.41}, "text": {"field": "name"}}}
      ]}
    ],
    "spacing": 29, "bounds": "flush", "resolve": {"scale": {"xOffset": "independent"}}
   },
   {
    "vconcat": [
     {"width": 122, "height": 144, "title": "COL1α2",
      "data": {"name": "C"}, "transform": [{"filter": "datum.gene === 'COL1α2'"}],
      "encoding": {"x": {"field": "grp", "type": "nominal", "title": null, "scale": {"domain": ["NT-","NT+","gap","siGR-","siGR+"], "paddingInner": 0, "paddingOuter": 0}, "axis": {"labels": false}}},
      "layer": [
       {"mark": "bar", "encoding": {"xOffset": {"field": "trt", "type": "nominal", "scale": {"domain": ["Vehicle","DEX"], "paddingInner": 0, "paddingOuter": 0.1}},
         "y": {"field": "val", "type": "quantitative", "scale": {"domain": [0, 3]}, "axis": {"values": [0,1,2,3], "format": "~g", "title": null}},
         "color": {"field": "trt", "type": "nominal", "scale": {"domain": ["Vehicle","DEX"], "range": ["#ffffff","#000000"]}, "legend": {"title": "C", "legendX": -63, "legendY": -26, "titlePadding": 90}}}},
       {"mark": {"type": "rule", "color": "black", "strokeWidth": 1.5}, "encoding": {"xOffset": {"field": "trt", "type": "nominal"}, "y": {"field": "val", "type": "quantitative"}, "y2": {"field": "hi"}}},
       {"mark": {"type": "tick", "color": "black", "thickness": 1.5, "size": 9}, "encoding": {"xOffset": {"field": "trt", "type": "nominal"}, "y": {"field": "hi", "type": "quantitative"}}},
       {"mark": {"type": "text", "fontSize": 8, "fontWeight": "bold", "color": "#666666", "baseline": "bottom", "dx": 3, "dy": -1}, "encoding": {"xOffset": {"field": "trt", "type": "nominal"}, "y": {"field": "hi", "type": "quantitative"}, "text": {"field": "sig"}}},
       {"data": {"name": "Cbr"}, "transform": [{"filter": "datum.gene === 'COL1α2'"}], "mark": {"type": "line", "color": "black", "strokeWidth": 2.5}, "encoding": {"xOffset": {"field": "trt", "type": "nominal"}, "y": {"field": "y", "type": "quantitative"}, "detail": {"field": "id"}, "order": {"field": "ord", "type": "quantitative"}}},
       {"data": {"name": "Clab"}, "transform": [{"filter": "datum.gene === 'COL1α2'"}], "mark": {"type": "text", "fontSize": 11, "fontStyle": "italic", "fontWeight": "bold", "color": "#333333", "baseline": "middle"}, "encoding": {"y": {"field": "y", "type": "quantitative"}, "text": {"field": "label"}}}
      ]},
     {"width": 122, "height": 141, "title": "MMP2",
      "data": {"name": "C"}, "transform": [{"filter": "datum.gene === 'MMP2'"}],
      "encoding": {"x": {"field": "grp", "type": "nominal", "title": null, "scale": {"domain": ["NT-","NT+","gap","siGR-","siGR+"], "paddingInner": 0, "paddingOuter": 0},
        "axis": {"labels": true, "labelAngle": 0, "labelAlign": "center", "labelBaseline": "top", "labelOffset": 12, "labelFontSize": 15, "labelPadding": 2,
                 "labelExpr": "datum.value === 'NT-' || datum.value === 'siGR-' ? '-' : (datum.value === 'gap' ? '' : '+')",
                 "title": "TGFβ1", "titleX": -3, "titleY": 15, "titleAlign": "right", "titleBaseline": "middle", "titleFontWeight": "normal", "titleFontSize": 15}}},
      "layer": [
       {"mark": "bar", "encoding": {"xOffset": {"field": "trt", "type": "nominal", "scale": {"domain": ["Vehicle","DEX"], "paddingInner": 0, "paddingOuter": 0.1}},
         "y": {"field": "val", "type": "quantitative", "scale": {"domain": [0, 4]}, "axis": {"values": [0,1,2,3,4], "format": "~g", "title": null}},
         "color": {"field": "trt", "type": "nominal", "scale": {"domain": ["Vehicle","DEX"], "range": ["#ffffff","#000000"]}, "legend": {"title": "C", "legendX": -63, "legendY": -26, "titlePadding": 90}}}},
       {"mark": {"type": "rule", "color": "black", "strokeWidth": 1.5}, "encoding": {"xOffset": {"field": "trt", "type": "nominal"}, "y": {"field": "val", "type": "quantitative"}, "y2": {"field": "hi"}}},
       {"mark": {"type": "tick", "color": "black", "thickness": 1.5, "size": 9}, "encoding": {"xOffset": {"field": "trt", "type": "nominal"}, "y": {"field": "hi", "type": "quantitative"}}},
       {"mark": {"type": "text", "fontSize": 8, "fontWeight": "bold", "color": "#666666", "baseline": "bottom", "dx": 3, "dy": -1}, "encoding": {"xOffset": {"field": "trt", "type": "nominal"}, "y": {"field": "hi", "type": "quantitative"}, "text": {"field": "sig"}}},
       {"data": {"name": "Cbr"}, "transform": [{"filter": "datum.gene === 'MMP2'"}], "mark": {"type": "line", "color": "black", "strokeWidth": 2.5}, "encoding": {"xOffset": {"field": "trt", "type": "nominal"}, "y": {"field": "y", "type": "quantitative"}, "detail": {"field": "id"}, "order": {"field": "ord", "type": "quantitative"}}},
       {"data": {"name": "Clab"}, "transform": [{"filter": "datum.gene === 'MMP2'"}], "mark": {"type": "text", "fontSize": 11, "fontStyle": "italic", "fontWeight": "bold", "color": "#333333", "baseline": "middle"}, "encoding": {"y": {"field": "y", "type": "quantitative"}, "text": {"field": "label"}}},
       {"data": {"name": "Csi"}, "transform": [{"filter": "datum.gene === 'MMP2'"}], "mark": {"type": "bar", "color": "black", "strokeWidth": 0}, "encoding": {"y": {"datum": -0.657}, "y2": {"datum": -0.714}}},
       {"data": {"name": "Csilab"}, "transform": [{"filter": "datum.gene === 'MMP2'"}], "mark": {"type": "text", "fontSize": 15, "fontWeight": "bold", "color": "black", "baseline": "middle"}, "encoding": {"x": {"field": "grp", "type": "nominal", "bandPosition": 0}, "y": {"datum": -1.23}, "text": {"field": "name"}}}
      ]}
    ],
    "spacing": 29, "bounds": "flush", "resolve": {"scale": {"xOffset": "independent"}}
   }
  ],
  "spacing": 1, "resolve": {"scale": {"xOffset": "independent"}}
 }
],
"spacing": 5, "resolve": {"scale": {"color": "independent", "xOffset": "independent"}}
}
